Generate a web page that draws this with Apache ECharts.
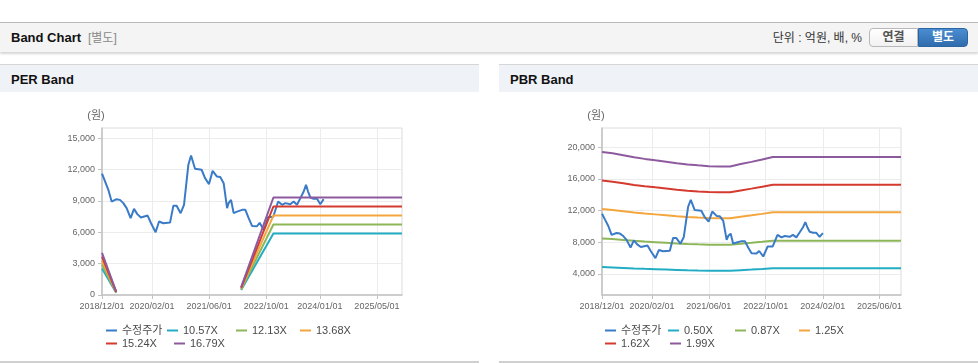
<!DOCTYPE html>
<html><head><meta charset="utf-8">
<script src="https://cdn.jsdelivr.net/npm/echarts@6/dist/echarts.min.js"></script>
<style>
body{margin:0;width:978px;height:364px;overflow:hidden;background:#fff;font-family:"Liberation Sans","Noto Sans CJK KR",sans-serif;position:relative}
.abs{position:absolute}
.topline{left:0;top:22px;width:978px;height:1px;background:#b8b8b8}
.hdr{left:0;top:23px;width:978px;height:29px;background:#f4f4f4;box-shadow:0 2px 2px rgba(0,0,0,0.16)}
.title{left:11px;top:30px;font-size:13px;line-height:16px;font-weight:bold;color:#111}
.sub{left:88px;top:31px;font-size:12px;line-height:15px;color:#888}
.unit{right:116px;top:31px;font-size:12px;line-height:15px;color:#333}
.btn{top:28px;height:17px;font-size:12px;line-height:17px;font-weight:bold;text-align:center}
.b1{left:869px;width:47px;border:1px solid #b8b8b8;border-radius:4px 0 0 4px;background:linear-gradient(#ffffff,#f1f1f1);color:#555}
.b2{left:918px;width:48px;border:1px solid #2c66a2;border-radius:0 4px 4px 0;background:linear-gradient(#4b8dd2,#2f6cad);color:#fff}
.phdr{top:64px;height:27px;background:#eff3f8;border-top:1.5px solid #d6d6d6}
.ptitle{top:72px;font-size:13px;line-height:16px;font-weight:bold;color:#111}
.pbot{top:361px;height:2px;background:#d0d0d0}
#chart{left:0;top:0;width:978px;height:364px;z-index:2}
</style></head>
<body>
<div class="abs topline"></div>
<div class="abs hdr"></div>
<div class="abs title">Band Chart</div>
<div class="abs sub">[별도]</div>
<div class="abs unit">단위 : 억원, 배, %</div>
<div class="abs btn b1">연결</div>
<div class="abs btn b2">별도</div>
<div class="abs phdr" style="left:0;width:479px"></div>
<div class="abs phdr" style="left:499px;width:479px"></div>
<div class="abs ptitle" style="left:11px">PER Band</div>
<div class="abs ptitle" style="left:510px">PBR Band</div>
<div class="abs pbot" style="left:0;width:479px"></div>
<div class="abs pbot" style="left:499px;width:479px"></div>
<div id="chart" class="abs"></div>
<script>
// ---- data ----
const priceDates = ['2018-12-01','2018-12-27','2019-01-24','2019-02-21','2019-03-07','2019-04-04','2019-05-03','2019-06-01','2019-06-29','2019-08-02','2019-08-31','2019-09-28','2019-10-29','2019-12-25','2020-01-23','2020-03-02','2020-03-31','2020-05-07','2020-07-03','2020-07-31','2020-08-28','2020-10-01','2020-10-30','2020-12-06','2020-12-29','2021-02-01','2021-03-29','2021-04-27','2021-05-31','2021-07-01','2021-08-07','2021-09-04','2021-10-03','2021-11-01','2021-11-14','2021-12-05','2021-12-27','2022-01-25','2022-03-09','2022-04-06','2022-05-04','2022-06-02','2022-07-14','2022-08-06','2022-09-10','2022-10-17','2022-11-29','2023-01-10','2023-02-13','2023-03-13','2023-04-24','2023-05-22','2023-06-20','2023-07-19','2023-08-16','2023-09-05','2023-09-22','2023-10-12','2023-11-09','2023-12-08','2024-01-05','2024-02-02'];
const priceValues = [11600,10850,10050,8930,9000,9160,9090,8780,8300,7340,8230,7730,7400,7590,6860,6000,7020,6860,6920,8520,8520,7820,8620,12440,13330,12060,11970,11170,10600,11870,11320,11270,10690,8300,8780,9090,7820,7970,8140,8140,7340,6600,6570,6900,6200,7450,7450,8940,8620,8780,8680,8930,8620,9260,9890,10530,9890,9320,9190,9190,8680,9160];

const perBandDates = ['2018-12-01','2019-04-01','2020-09-01','2022-03-01','2022-12-01','2025-12-01'];
const per1057 = [2540, 210, null, 480, 5866, 5866];
const per1213 = [2910, 245, null, 545, 6732, 6732];
const per1368 = [3280, 275, null, 615, 7592, 7592];
const per1524 = [3660, 305, null, 685, 8458, 8458];
const per1679 = [4030, 335, null, 755, 9318, 9318];

const pbrBandDates = ['2018-12-01','2019-03-01','2019-06-01','2019-09-01','2019-12-01','2020-03-01','2020-06-01','2020-09-01','2020-12-01','2021-03-01','2021-06-01','2021-09-01','2021-12-01','2022-03-01','2022-06-01','2022-09-01','2022-12-01','2025-12-01'];
const pbr050 = [4870,4825,4765,4700,4650,4605,4560,4515,4475,4445,4420,4410,4410,4485,4555,4630,4710,4710];
const pbr087 = [8474,8396,8291,8178,8091,8013,7934,7856,7787,7734,7691,7673,7673,7804,7926,8056,8195,8195];
const pbr125 = [12175,12063,11913,11750,11625,11513,11400,11288,11188,11113,11050,11025,11025,11213,11388,11575,11775,11775];
const pbr162 = [15779,15633,15439,15228,15066,14920,14774,14629,14499,14402,14321,14288,14288,14531,14758,15001,15260,15260];
const pbr199 = [19383,19204,18965,18706,18507,18328,18149,17970,17811,17691,17592,17552,17552,17850,18129,18427,18746,18746];

const xStart = '2018-12-01', xEnd = '2025-12-01';
const perXTicks = ['2018-12-01','2020-02-01','2021-06-01','2022-10-01','2024-01-01','2025-05-01'];
const pbrXTicks = ['2018-12-01','2020-02-01','2021-06-01','2022-10-01','2024-02-01','2025-06-01'];
const perYTicks = [0,3000,6000,9000,12000,15000];
const pbrYTicks = [4000,8000,12000,16000,20000];
const perNames = ['수정주가','10.57X','12.13X','13.68X','15.24X','16.79X'];
const pbrNames = ['수정주가','0.50X','0.87X','1.25X','1.62X','1.99X'];
const colors = ['#3a7bc8','#22adc4','#8db65a','#f3a63d','#d53a2e','#8d5a9e'];

// ---- build ----
const ts = s => Date.parse(s + 'T00:00:00Z');
const pair = (d, v) => d.map((x, i) => [ts(x), v[i]]);
const fmtDate = v => { const d = new Date(v); const p = n => (n < 10 ? '0' : '') + n; return d.getUTCFullYear() + '/' + p(d.getUTCMonth() + 1) + '/' + p(d.getUTCDate()); };
const fmtNum = v => Number(v).toLocaleString('en-US');
const FONT = '"Liberation Sans","Noto Sans CJK KR",sans-serif';

function xAxis(idx, ticks) {
  const tv = ticks.map(ts);
  return {
    type: 'value', gridIndex: idx, min: ts(xStart), max: ts(xEnd),
    axisLine: { show: true, onZero: false, lineStyle: { color: '#c2c2c2', width: 1.5 } },
    axisTick: { show: true, length: 4, lineStyle: { color: '#c2c2c2' }, customValues: tv },
    axisLabel: { customValues: tv, formatter: fmtDate, color: '#666', fontSize: 9, fontFamily: FONT, margin: 7, hideOverlap: false, showMinLabel: true, showMaxLabel: true },
    splitLine: { show: true, lineStyle: { color: '#ececec', width: 1 } }
  };
}
function yAxis(idx, min, max, ticks) {
  return {
    type: 'value', gridIndex: idx, min: min, max: max,
    name: '(원)', nameLocation: 'end', nameGap: 7,
    nameTextStyle: { color: '#666', fontSize: 11, fontFamily: FONT, align: 'center', padding: [0, 12, 0, 0] },
    axisLine: { show: true, lineStyle: { color: '#c2c2c2', width: 1.5 } },
    axisTick: { show: true, length: 4, lineStyle: { color: '#c2c2c2' }, customValues: ticks },
    axisLabel: { customValues: ticks, formatter: fmtNum, color: '#666', fontSize: 9, fontFamily: FONT, margin: 7 },
    splitLine: { show: true, lineStyle: { color: '#ececec', width: 1 } }
  };
}
function line(name, idx, data, color, z) {
  return { type: 'line', name: name, xAxisIndex: idx, yAxisIndex: idx, data: data, showSymbol: false, symbol: 'none',
    connectNulls: false, lineStyle: { color: color, width: 2 }, itemStyle: { color: color }, z: z, animation: false };
}
function legend(left, names, widths) {
  const rich = {};
  widths.forEach((w, i) => { rich['w' + i] = { width: w, height: 13, lineHeight: 13, fontSize: 11, color: '#4a4a4a', fontFamily: FONT }; });
  return { left: left, top: 324, padding: 0, itemGap: 0, itemWidth: 11, itemHeight: 2, icon: 'rect', width: 256,
    textStyle: { color: '#4a4a4a', fontSize: 11, fontFamily: FONT, rich: rich },
    formatter: name => '{w' + names.indexOf(name) + '|' + name + '}',
    data: names };
}

const perBands = [per1057, per1213, per1368, per1524, per1679];
const pbrBands = [pbr050, pbr087, pbr125, pbr162, pbr199];
const series = [line(perNames[0], 0, pair(priceDates, priceValues), colors[0], 2)];
perBands.forEach((b, i) => series.push(line(perNames[i + 1], 0, pair(perBandDates, b), colors[i + 1], 3)));
series.push(line(pbrNames[0], 1, pair(priceDates, priceValues), colors[0], 4));
pbrBands.forEach((b, i) => series.push(line(pbrNames[i + 1], 1, pair(pbrBandDates, b), colors[i + 1], 3)));

const chart = echarts.init(document.getElementById('chart'), null, { renderer: 'canvas' });
chart.setOption({
  animation: false,
  backgroundColor: 'transparent',
  grid: [
    { left: 102, top: 128, width: 300, height: 167, show: true, borderColor: '#dcdcdc', borderWidth: 1, backgroundColor: 'transparent' },
    { left: 602, top: 128, width: 299, height: 167, show: true, borderColor: '#dcdcdc', borderWidth: 1, backgroundColor: 'transparent' }
  ],
  xAxis: [xAxis(0, perXTicks), xAxis(1, pbrXTicks)],
  yAxis: [yAxis(0, 0, 15960, perYTicks), yAxis(1, 1350, 22400, pbrYTicks)],
  legend: [legend(106, perNames, [45, 53, 48, 40, 52, 40]), legend(605, pbrNames, [47, 51, 48, 40, 49, 40])],
  series: series
});
</script>
</body></html>
